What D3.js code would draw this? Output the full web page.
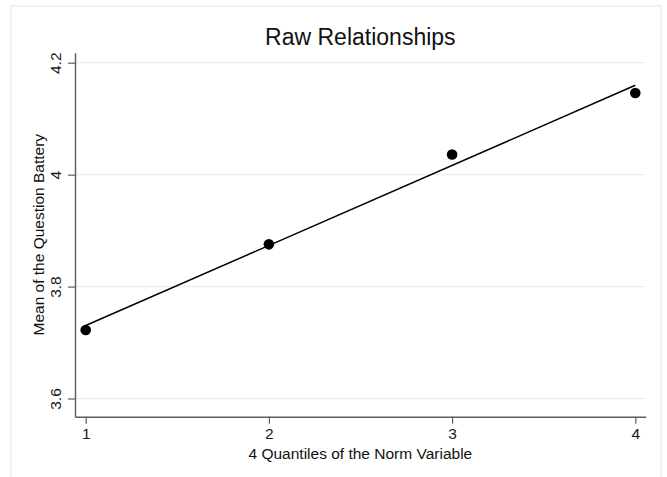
<!DOCTYPE html>
<html>
<head>
<meta charset="utf-8">
<script src="https://cdn.jsdelivr.net/npm/d3@7"></script>
<style>
  html, body { margin: 0; padding: 0; background: #ffffff; }
  svg { display: block; font-family: "Liberation Sans", Arial, Helvetica, sans-serif; }
</style>
</head>
<body>
<svg id="chart" width="667" height="477"></svg>
<script>
// Quantile groups of the norm variable and the mean score of the question battery in each
const quantiles = [1, 2, 3, 4];
const batteryMeans = [3.7225, 3.8755, 4.036, 4.146];
const xTickValues = [1, 2, 3, 4];
const yTickValues = [3.6, 3.8, 4.0, 4.2];
const yTickLabels = ["3.6", "3.8", "4", "4.2"];

const svg = d3.select("#chart");

// Outer graph region
svg.append("rect")
  .attr("x", 11).attr("y", 6)
  .attr("width", 650).attr("height", 480)
  .attr("fill", "#ffffff")
  .attr("stroke", "#e6eff2")
  .attr("stroke-width", 1.5);

const plot = { left: 75, right: 645.7, top: 52.7, bottom: 416.7 };

const x = d3.scaleLinear().domain([0.9416, 4.0568]).range([plot.left, plot.right]);
const y = d3.scaleLinear().domain([3.5675, 4.2179]).range([plot.bottom, plot.top]);

// Horizontal gridlines
svg.append("g")
  .selectAll("line")
  .data(yTickValues)
  .join("line")
  .attr("x1", plot.left).attr("x2", plot.right)
  .attr("y1", d => y(d)).attr("y2", d => y(d))
  .attr("stroke", "#e7f0f2")
  .attr("stroke-width", 1.3);

// Y axis
const yAxis = svg.append("g")
  .attr("transform", `translate(${plot.left},0)`)
  .call(d3.axisLeft(y).tickValues(yTickValues).tickSize(7).tickSizeOuter(0)
    .tickFormat((d, i) => yTickLabels[i]));
yAxis.select(".domain").attr("stroke", "#5c5c5c").attr("stroke-width", 1.4);
yAxis.selectAll(".tick line").attr("stroke", "#5c5c5c").attr("stroke-width", 1.2);
yAxis.selectAll(".tick text")
  .attr("x", null).attr("dy", null)
  .attr("transform", "translate(-14.5,0) rotate(-90)")
  .attr("text-anchor", "middle")
  .attr("fill", "#1a1a1a")
  .style("font-size", "15.5px");

// X axis
const xAxis = svg.append("g")
  .attr("transform", `translate(0,${plot.bottom})`)
  .call(d3.axisBottom(x).tickValues(xTickValues).tickSize(7).tickSizeOuter(0)
    .tickFormat(d3.format("d")));
xAxis.select(".domain").attr("stroke", "#5c5c5c").attr("stroke-width", 1.4);
xAxis.selectAll(".tick line").attr("stroke", "#5c5c5c").attr("stroke-width", 1.2);
xAxis.selectAll(".tick text")
  .attr("y", 22).attr("dy", null)
  .attr("fill", "#1a1a1a")
  .style("font-size", "15.5px");

// Linear fit of the means on the quantile index
const n = quantiles.length;
const mx = d3.mean(quantiles);
const my = d3.mean(batteryMeans);
const slope = d3.sum(quantiles, (q, i) => (q - mx) * (batteryMeans[i] - my)) /
              d3.sum(quantiles, q => (q - mx) * (q - mx));
const intercept = my - slope * mx;
const fitX = d3.extent(quantiles);

svg.append("line")
  .attr("x1", x(fitX[0])).attr("y1", y(intercept + slope * fitX[0]))
  .attr("x2", x(fitX[1])).attr("y2", y(intercept + slope * fitX[1]))
  .attr("stroke", "#000000")
  .attr("stroke-width", 1.5);

// Observed means
svg.append("g")
  .selectAll("circle")
  .data(quantiles)
  .join("circle")
  .attr("cx", d => x(d))
  .attr("cy", (d, i) => y(batteryMeans[i]))
  .attr("r", 5.3)
  .attr("fill", "#000000");

// Titles
svg.append("text")
  .attr("x", (plot.left + plot.right) / 2)
  .attr("y", 45)
  .attr("text-anchor", "middle")
  .attr("fill", "#111111")
  .style("font-size", "23px")
  .text("Raw Relationships");

svg.append("text")
  .attr("x", (plot.left + plot.right) / 2)
  .attr("y", 458.5)
  .attr("text-anchor", "middle")
  .attr("fill", "#111111")
  .style("font-size", "15.5px")
  .text("4 Quantiles of the Norm Variable");

svg.append("text")
  .attr("transform", `translate(44,${(plot.top + plot.bottom) / 2}) rotate(-90)`)
  .attr("text-anchor", "middle")
  .attr("fill", "#111111")
  .style("font-size", "15.5px")
  .text("Mean of the Question Battery");
</script>
</body>
</html>
